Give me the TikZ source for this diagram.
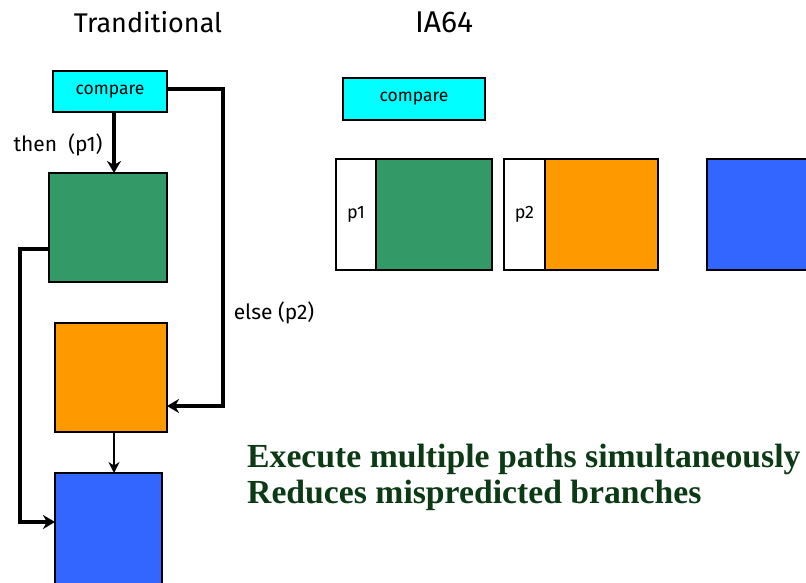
\documentclass[tikz,border=0pt]{standalone}
\usepackage{fontspec}
\setmainfont{Liberation Serif}
\newfontfamily\comicish{Fira Sans}
\usetikzlibrary{arrows.meta}
\definecolor{cmpcyan}{HTML}{00FFFF}
\definecolor{pgreen}{HTML}{339966}
\definecolor{porange}{HTML}{FF9900}
\definecolor{pblue}{HTML}{3366FF}
\definecolor{txtgreen}{HTML}{0B3A14}
\tikzset{
  blk/.style={draw=black, line width=1.2pt, inner sep=0pt, outer sep=0pt},
  cmpbox/.style={blk, fill=cmpcyan, font=\comicish\fontsize{17.5}{20}\selectfont},
  plbl/.style={font=\comicish\fontsize{18}{20}\selectfont},
  lbl/.style={font=\comicish\fontsize{21}{24}\selectfont, inner sep=0pt},
  ttl/.style={font=\comicish\fontsize{27}{30}\selectfont, inner sep=0pt},
  thickarrow/.style={line width=4pt, -{Stealth[length=12pt,width=14pt]}},
  thinarrow/.style={line width=2pt, -{Stealth[length=11pt,width=11pt]}},
  bigtext/.style={font=\bfseries\fontsize{33.7}{36}\selectfont, text=txtgreen, inner sep=0pt, anchor=base west}
}
\begin{document}
\begin{tikzpicture}[x=1pt, y=-1pt]
\useasboundingbox (0,0) rectangle (806,583);
\clip (0,0) rectangle (806,583);
\fill[white] (0,0) rectangle (806,583);

% titles
\node[ttl] (t1) at (148,22) {Tranditional};
\node[ttl, font=\comicish\fontsize{30}{32}\selectfont] (t2) at (444,22) {IA64};

% traditional column
\node[cmpbox, minimum width=114pt, minimum height=41pt] (cmpL) at (110,91.5) {compare};
\node[blk, fill=pgreen, minimum width=118pt, minimum height=109pt] (green) at (108,227.5) {};
\node[blk, fill=porange, minimum width=112pt, minimum height=109pt] (orange) at (111,377.5) {};
\node[blk, fill=pblue, minimum width=107pt, minimum height=140pt] (blueL) at (108.5,543) {};

\node[lbl] (then) at (58,145) {then\ \ (p1)};
\node[lbl] (else) at (274,313) {else (p2)};

\draw[thickarrow] ([xshift=4pt]cmpL.south) -- ([xshift=4pt]cmpL.south |- green.north);
\draw[thickarrow] ([yshift=2.5pt]cmpL.east) -- ++(56,0) |- ([yshift=-28.5pt]orange.east);
\draw[thickarrow] ([yshift=-21.5pt]green.west) -- ++(-29,0) |- ([yshift=21pt]blueL.west);
\draw[thinarrow] ([xshift=3pt]orange.south) -- ([xshift=3pt]orange.south |- blueL.north);

% IA64 column
\node[cmpbox, minimum width=142pt, minimum height=42pt] (cmpR) at (414,99) {compare};
\node[blk, plbl, fill=white, minimum width=40pt, minimum height=111pt] (p1) at (356,214.5) {p1};
\node[blk, fill=pgreen, minimum width=116pt, minimum height=111pt, anchor=west] (g2) at (p1.east) {};
\node[blk, plbl, fill=white, minimum width=41pt, minimum height=111pt] (p2) at (524.5,214.5) {p2};
\node[blk, fill=porange, minimum width=113pt, minimum height=111pt, anchor=west] (o2) at (p2.east) {};
\node[blk, fill=pblue, minimum width=130pt, minimum height=111pt, anchor=west] (b2) at (707,214.5) {};

% text
\node[bigtext] (l1) at (247,467) {Execute multiple paths simultaneously};
\node[bigtext] (l2) at (247,503) {Reduces mispredicted branches};
\end{tikzpicture}
\end{document}
